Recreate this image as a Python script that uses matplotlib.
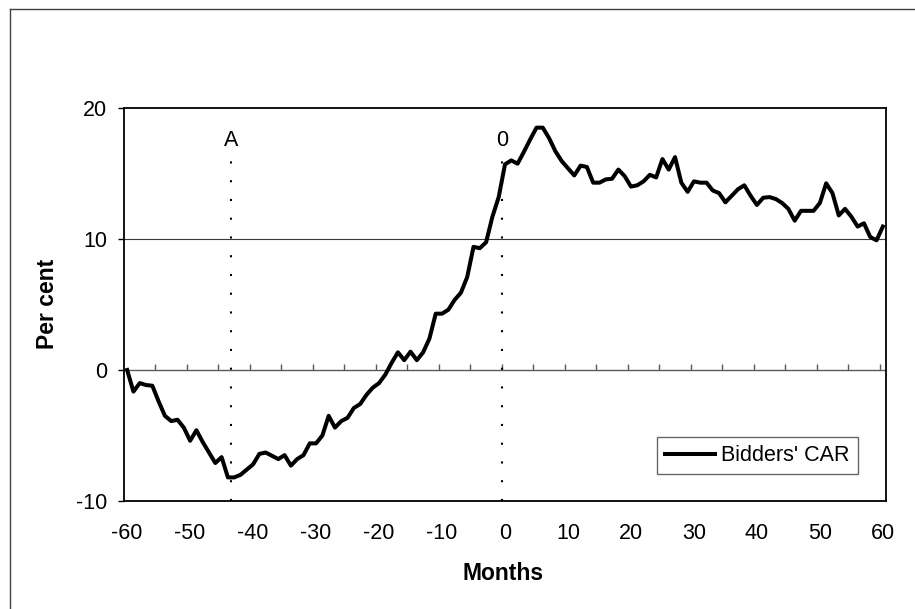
import matplotlib
matplotlib.use('Agg')
import matplotlib.pyplot as plt
from matplotlib.lines import Line2D
import numpy as np

# ---- data ----
months = list(range(-60, 61))
car = [
    0.0, -1.65, -1.0, -1.15, -1.2, -2.4, -3.5, -3.9, -3.8, -4.4,      # -60..-51
    -5.4, -4.6, -5.5, -6.3, -7.1, -6.65, -8.2, -8.2, -8.0, -7.6,      # -50..-41
    -7.2, -6.4, -6.3, -6.55, -6.8, -6.5, -7.3, -6.8, -6.5, -5.6,      # -40..-31
    -5.6, -5.0, -3.5, -4.4, -3.9, -3.65, -2.9, -2.6, -1.9, -1.35,     # -30..-21
    -1.0, -0.35, 0.55, 1.35, 0.75, 1.4, 0.75, 1.35, 2.4, 4.3,         # -20..-11
    4.3, 4.6, 5.35, 5.9, 7.1, 9.4, 9.3, 9.75, 11.7, 13.2,             # -10..-1
    15.7, 16.0, 15.75, 16.65, 17.6, 18.5, 18.5, 17.7, 16.7, 15.95,    # 0..9
    15.4, 14.85, 15.6, 15.5, 14.3, 14.3, 14.55, 14.6, 15.3, 14.8,     # 10..19
    14.0, 14.1, 14.4, 14.9, 14.7, 16.1, 15.3, 16.25, 14.3, 13.6,      # 20..29
    14.4, 14.3, 14.3, 13.7, 13.5, 12.8, 13.3, 13.8, 14.1, 13.3,       # 30..39
    12.6, 13.15, 13.2, 13.05, 12.75, 12.3, 11.4, 12.15, 12.15, 12.15, # 40..49
    12.75, 14.25, 13.5, 11.8, 12.3, 11.7, 10.95, 11.2, 10.15, 9.9,    # 50..59
    10.95,                                                            # 60
]
series_label = "Bidders' CAR"
x_tick_values = [-60, -50, -40, -30, -20, -10, 0, 10, 20, 30, 40, 50, 60]
y_tick_values = [-10, 0, 10, 20]
event_names = ['A', '0']
event_months = [-43.5, -0.5]
x_title = 'Months'
y_title = 'Per cent'

plt.rcParams['font.family'] = ['Liberation Sans', 'DejaVu Sans']

W, H = 915, 609
fig = plt.figure(figsize=(W / 100, H / 100), dpi=100)
fig.patch.set_facecolor('white')

L, R, T, B = 124, 886, 108, 501
ax = fig.add_axes([L / W, 1 - B / H, (R - L) / W, (B - T) / H])
ax.set_xlim(-60.5, 60.5)
ax.set_ylim(-10, 20)

# gridline at 10 and category axis at 0
ax.axhline(10, color='#3a3a3a', lw=0.8, zorder=1)
ax.axhline(0, color='#5a5a5a', lw=1.0, zorder=2)
cat_ticks = np.arange(-55.5, 60, 5)
ax.plot(cat_ticks, np.zeros_like(cat_ticks), linestyle='none', marker=2,
        markersize=4, markeredgewidth=1.0, color='#5a5a5a', zorder=2)

# event lines
for name, m in zip(event_names, event_months):
    ax.plot([m, m], [-10, 16.4], color='black', lw=1.5,
            linestyle=(0, (1, 8)), zorder=3)
    ax.text(m, 17.55, name, ha='center', va='center', fontsize=15.5, zorder=4)

ax.plot(months, car, color='black', lw=2.9, label=series_label, zorder=5)

for s in ax.spines.values():
    s.set_color('black')
    s.set_linewidth(1.3)

ax.set_xticks(x_tick_values)
ax.set_xticklabels([str(v) for v in x_tick_values])
ax.set_yticks(y_tick_values)
ax.set_yticklabels([str(v) for v in y_tick_values])
ax.tick_params(axis='x', length=0, pad=16, labelsize=15.5)
ax.tick_params(axis='y', direction='out', length=4, width=1.0, pad=8, labelsize=15.5)

fig.text(503 / W, 1 - 574 / H, x_title, ha='center', va='center',
         fontsize=16.5, fontweight='bold')
fig.text(47 / W, 1 - 304 / H, y_title, ha='center', va='center',
         fontsize=16.5, fontweight='bold', rotation=90)

leg = ax.legend(loc='upper left', bbox_to_anchor=(657 / W, 1 - 437 / H),
                bbox_transform=fig.transFigure, frameon=True, fancybox=False,
                shadow=False, fontsize=15.5, handlelength=2.3, handletextpad=0.3,
                borderpad=0.38, borderaxespad=0)
leg.get_frame().set_edgecolor('#404040')
leg.get_frame().set_linewidth(1.0)

# outer chart-area border (left and top visible)
fig.add_artist(Line2D([10 / W, 10 / W], [0, 1 - 8.5 / H], color='#404040',
                      lw=1.0, transform=fig.transFigure))
fig.add_artist(Line2D([10 / W, 1], [1 - 8.5 / H, 1 - 8.5 / H], color='#404040',
                      lw=1.0, transform=fig.transFigure))

fig.savefig('out.png', dpi=100)
